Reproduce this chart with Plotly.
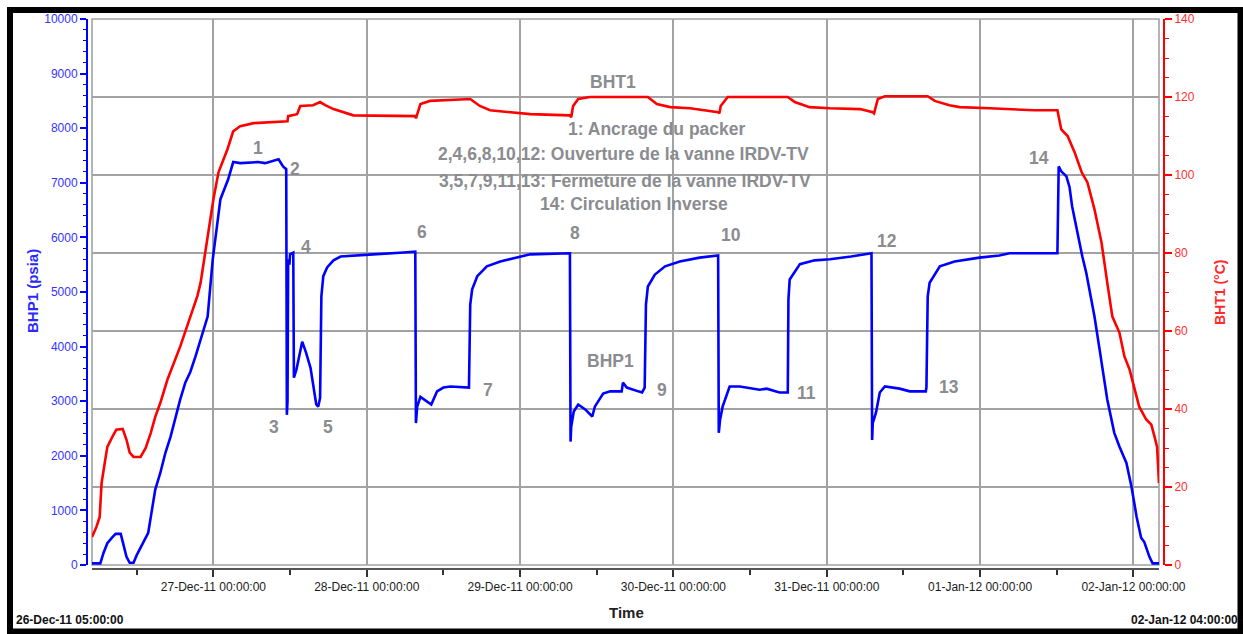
import pandas as pd
import plotly.graph_objects as go

# ---------------------------------------------------------------- data
START = pd.Timestamp("2011-12-26 05:00:00")
END = pd.Timestamp("2012-01-02 04:00:00")

# bottom-hole pressure, hours elapsed since START
bhp_hours = [
    0.0, 1.3, 1.8, 2.4, 3.2, 3.7, 4.5, 4.9, 5.4, 5.9, 6.5, 7.0, 7.7, 8.8, 9.3,
    9.9, 10.7, 11.5, 12.3, 13.1, 13.8, 14.6, 15.4, 16.2, 17.0, 18.1, 18.9, 20.1,
    21.3, 22.1, 23.2, 26.0, 27.1, 29.2, 29.9, 30.4, 30.5, 30.6, 30.7, 30.9, 31.0,
    31.5, 31.6, 32.0, 32.9, 33.5, 34.2, 34.6, 35.1, 35.4, 35.7, 35.9, 36.2, 36.8,
    37.8, 38.9, 40.9, 44.0, 48.2, 50.6, 50.7, 50.9, 51.4, 52.0, 53.1, 54.0, 55.0,
    56.1, 59.0, 59.2, 59.5, 60.3, 61.8, 63.9, 67.0, 68.6, 74.8, 74.9, 75.0, 75.4,
    76.1, 77.2, 78.3, 78.7, 80.0, 81.1, 82.9, 83.1, 83.7, 85.5, 86.1, 86.5, 86.7,
    87.0, 88.1, 89.7, 92.0, 95.1, 98.0, 98.1, 98.3, 98.7, 99.2, 99.8, 101.4,
    102.6, 104.5, 105.6, 107.6, 108.9, 109.0, 109.2, 110.8, 113.1, 115.5, 118.8,
    121.7, 122.0, 122.1, 122.2, 122.7, 123.3, 124.1, 126.4, 128.0, 130.5, 130.6,
    130.8, 131.1, 132.7, 135.0, 138.9, 142.0, 143.6, 151.1, 151.3, 151.7, 152.5,
    153.0, 153.4, 153.9, 154.5, 155.0, 155.6, 156.1, 156.9, 157.7, 158.9, 160.0,
    160.8, 161.9, 162.7, 163.5, 164.2, 164.7, 165.5, 166.0, 167.0,
]
bhp_psia = [
    30, 30, 220, 400, 510, 570, 570, 400, 150, 40, 40, 180, 330, 590, 950,
    1380, 1690, 2060, 2350, 2720, 3030, 3340, 3540, 3820, 4130, 4550, 5600, 6700,
    7060, 7380, 7360, 7380, 7360, 7430, 7300, 7250, 2750, 3000, 5600, 5500, 5690,
    5720, 3430, 3580, 4090, 3890, 3610, 3270, 2940, 2900, 3060, 4920, 5290, 5450,
    5580, 5650, 5670, 5690, 5720, 5740, 2600, 2900, 3080, 3030, 2940, 3180, 3250,
    3270, 3250, 4770, 5050, 5290, 5470, 5560, 5650, 5690, 5710, 2260, 2530, 2810,
    2940, 2850, 2720, 2900, 3140, 3180, 3180, 3340, 3250, 3180, 3160, 3250, 4770,
    5100, 5320, 5470, 5560, 5630, 5670, 2420, 2660, 2900, 3080, 3270, 3270,
    3250, 3210, 3230, 3160, 3160, 4860, 5230, 5510, 5580, 5600, 5650,
    5710, 5710, 2290, 2600, 2790, 3160, 3270, 3230, 3180, 3180, 3250,
    4920, 5170, 5470, 5560, 5630, 5670, 5710, 5710, 7300, 7210, 7120,
    6920, 6570, 6280, 5910, 5650, 5360, 5050, 4550, 3950, 3030, 2420,
    2170, 1870, 1430, 880, 500, 420, 150, 30, 30,
]

# bottom-hole temperature, hours elapsed since START
bht_hours = [
    0.0, 0.7, 1.2, 1.5, 2.0, 2.4, 3.1, 3.8, 4.8, 5.4, 5.9, 6.5, 7.6, 8.4, 9.2,
    9.9, 10.7, 11.8, 13.8, 15.4, 16.5, 17.0, 18.2, 19.0, 19.8, 21.2, 22.1, 23.2,
    25.3, 28.4, 30.6, 30.7, 32.1, 32.6, 34.6, 35.7, 36.5, 37.8, 39.3, 40.9, 50.6,
    50.7, 51.4, 52.9, 59.2, 60.7, 62.3, 65.4, 68.6, 74.8, 75.0, 75.3, 76.1, 77.9,
    87.0, 88.4, 90.5, 93.6, 98.0, 98.2, 98.4, 99.5, 108.9, 110.0, 112.3, 115.5,
    120.2, 122.2, 122.4, 123.0, 124.1, 130.8, 131.9, 134.2, 135.8, 140.5, 147.5,
    151.1, 151.7, 152.7, 153.8, 154.9, 155.8, 156.9, 158.0, 158.9, 159.7, 160.8,
    161.6, 162.4, 163.2, 163.9, 165.0, 165.8, 166.3, 166.7, 167.0,
]
bht_degc = [
    7.2, 9.8, 12.3, 21.0, 26.2, 30.3, 32.6, 34.7, 34.9, 32.1, 28.8, 27.7, 27.7,
    30.0, 33.9, 38.0, 41.6, 47.5, 56.0, 63.7, 69.0, 72.4, 85.0, 93.8, 100.7,
    106.6, 111.2, 112.5, 113.3, 113.6, 113.8, 115.1, 115.6, 117.7, 117.9, 118.7,
    117.9, 116.9, 116.1, 115.3, 115.1, 114.5, 118.2, 119.0, 119.5, 117.7, 116.6,
    116.1, 115.6, 115.3, 114.8, 117.7, 119.5, 120.0, 120.0, 118.2, 117.4, 117.1,
    116.1, 115.8, 117.7, 120.0, 120.0, 118.7, 117.4, 117.1, 116.9, 116.1, 115.8,
    119.5, 120.2, 120.2, 119.0, 117.9, 117.4, 117.1, 116.6, 116.6, 111.7, 110.0,
    105.8, 100.7, 98.1, 91.2, 82.7, 72.4, 63.7, 59.6, 53.4, 50.1, 45.0, 40.6,
    37.3, 36.0, 32.9, 30.3, 21.0,
]

assert len(bhp_hours) == len(bhp_psia)
assert len(bht_hours) == len(bht_degc)


def to_time(hours):
    return START + pd.to_timedelta(pd.Series(hours), unit="h")


# ---------------------------------------------------------------- geometry
W, H = 1243, 634
ML, MR, MT, MB = 87, 79, 19, 65
PW = W - ML - MR
PH = H - MT - MB


def px(xp):
    return (xp - ML) / PW


def py(yp):
    return (H - MB - yp) / PH


GRID = "#a2a2a2"
NOTE = "#8a8c90"
BLUE = "#0000ff"
RED = "#ff0000"

fig = go.Figure()
fig.add_trace(go.Scatter(
    x=to_time(bhp_hours), y=bhp_psia, mode="lines", name="BHP1",
    line=dict(color=BLUE, width=2.6), yaxis="y",
))
fig.add_trace(go.Scatter(
    x=to_time(bht_hours), y=bht_degc, mode="lines", name="BHT1",
    line=dict(color=RED, width=2.6), yaxis="y2",
))

tick_font = dict(family="Liberation Sans, Arial, sans-serif", size=12)

fig.update_layout(
    width=W, height=H,
    margin=dict(l=ML, r=MR, t=MT, b=MB, pad=0),
    paper_bgcolor="white", plot_bgcolor="white",
    showlegend=False,
    xaxis=dict(
        type="date",
        range=[START.strftime("%Y-%m-%d %H:%M:%S"), END.strftime("%Y-%m-%d %H:%M:%S")],
        domain=[px(92), px(1159)],
        anchor="free", position=0,
        tickformat="%d-%b-%y %H:%M:%S",
        tick0="2011-12-27 00:00:00", dtick=86400000,
        ticks="outside", ticklen=7, tickwidth=1.5, tickcolor="#333333",
        showline=True, linecolor="#555555", linewidth=1.5,
        showgrid=True, gridcolor=GRID, gridwidth=1.6,
        zeroline=False,
        minor=dict(tick0="2011-12-26 12:00:00", dtick=43200000, ticks="outside",
                   ticklen=5, tickwidth=1.5, tickcolor="#333333", showgrid=False),
        tickfont=dict(tick_font, color="#1a1a1a"),
    ),
    yaxis=dict(
        range=[0, 10000], domain=[py(565), 1],
        anchor="free", position=0, side="left",
        dtick=1000, tickformat="d",
        ticks="outside", ticklen=6, tickwidth=1.5, tickcolor=BLUE,
        showline=True, linecolor=BLUE, linewidth=2,
        showgrid=False, zeroline=False,
        minor=dict(dtick=200, ticks="outside", ticklen=3, tickwidth=1.2,
                   tickcolor=BLUE, showgrid=False),
        tickfont=dict(tick_font, color="#3434ff"),
    ),
    yaxis2=dict(
        range=[0, 140], overlaying="y",
        anchor="free", position=1, side="right",
        dtick=20, tickformat="d",
        ticks="outside", ticklen=7, tickwidth=1.5, tickcolor=RED,
        showline=True, linecolor=RED, linewidth=2,
        showgrid=True, gridcolor=GRID, gridwidth=1.6, zeroline=False,
        minor=dict(dtick=5, ticks="outside", ticklen=4, tickwidth=1.2,
                   tickcolor=RED, showgrid=False),
        tickfont=dict(tick_font, color="#ff3030"),
    ),
)

# plot frame and outer border
fig.add_shape(type="rect", xref="x domain", yref="y domain", x0=0, x1=1, y0=0, y1=1,
              line=dict(color=GRID, width=1.6), layer="below")
fig.add_shape(type="rect", xref="paper", yref="paper",
              x0=px(10), x1=px(1240.5), y0=py(631.5), y1=py(10),
              line=dict(color="black", width=6))


def note(text, xp, yp, size=17.5, color=NOTE, angle=0, bold=True):
    fig.add_annotation(
        text=f"<b>{text}</b>" if bold else text,
        xref="paper", yref="paper", x=px(xp), y=py(yp),
        xanchor="center", yanchor="middle", showarrow=False, textangle=angle,
        font=dict(family="Liberation Sans, Arial, sans-serif", size=size, color=color),
    )


# notes inside the plot
note("BHT1", 613, 82)
note("1: Ancrage du packer", 657, 129)
note("2,4,6,8,10,12: Ouverture de la vanne IRDV-TV", 623, 154)
note("3,5,7,9,11,13: Fermeture de la vanne IRDV-TV", 625, 181)
note("14: Circulation Inverse", 634, 204)
note("BHP1", 610, 361)

# event numbers
event_labels = ["1", "2", "3", "4", "5", "6", "7", "8", "9", "10", "11", "12", "13", "14"]
event_px = [258, 295, 274, 306, 328, 422, 488, 575, 662, 731, 806, 887, 949, 1039]
event_py = [148, 169, 427, 247, 427, 232, 390, 233, 390, 235, 393, 241, 387, 158]
for lab, xp, yp in zip(event_labels, event_px, event_py):
    note(lab, xp, yp)

# axis titles and range stamps
note("BHP1 (psia)", 32, 291, size=15, color="#2a2aff", angle=-90)
note("BHT1 (°C)", 1220, 293, size=14, color="#ff2a2a", angle=-90)
note("Time", 626, 612, size=15, color="#222222")
note("26-Dec-11 05:00:00", 70, 620, size=12, color="#111111")
note("02-Jan-12 04:00:00", 1184, 620, size=12, color="#111111")

fig.write_html("out.html")
